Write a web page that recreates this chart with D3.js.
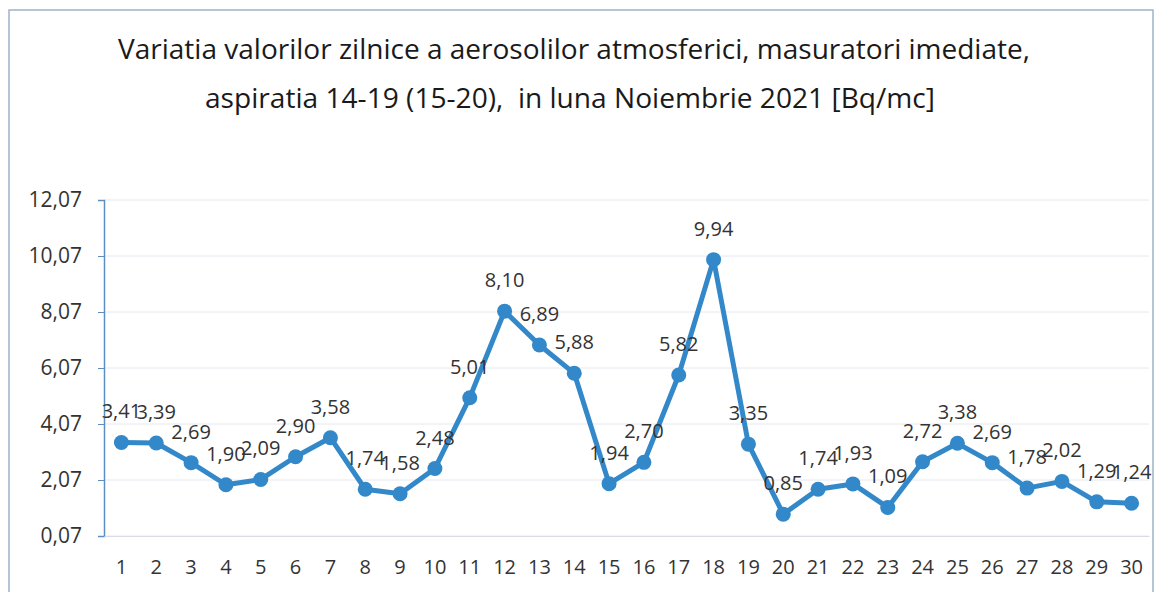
<!DOCTYPE html>
<meta charset="utf-8">
<script src="https://d3js.org/d3.v7.min.js"></script>
<style>
  body { margin: 0; background: #fff; }
  text { font-family: "Open Sans", sans-serif; }
</style>
<div id="my_dataviz"></div>
<script>

// data
const days = d3.range(1, 31).map(String);
const values = [3.41, 3.39, 2.69, 1.90, 2.09, 2.90, 3.58, 1.74, 1.58, 2.48,
                5.01, 8.10, 6.89, 5.88, 1.94, 2.70, 5.82, 9.94, 3.35, 0.85,
                1.74, 1.93, 1.09, 2.72, 3.38, 2.69, 1.78, 2.02, 1.29, 1.24];
const yTicks = [0.07, 2.07, 4.07, 6.07, 8.07, 10.07, 12.07];
const titleLines = ["Variatia valorilor zilnice a aerosolilor atmosferici, masuratori imediate,",
                    "aspiratia 14-19 (15-20),  in luna Noiembrie 2021 [Bq/mc]"];
const titleWidths = [912, 730];

const W = 1166, H = 592;
const margin = {top: 200, right: 17, bottom: 56, left: 104};
const width = W - margin.left - margin.right;
const height = H - margin.top - margin.bottom;

const svg0 = d3.select("#my_dataviz").append("svg")
    .attr("width", W).attr("height", H);

// chart frame
svg0.append("rect")
    .attr("x", 9).attr("y", 10).attr("width", 1144).attr("height", 600)
    .style("fill", "none").style("stroke", "#9db3c9").style("stroke-width", 1.5);

// title
svg0.selectAll("text.title")
  .data(titleLines)
  .enter().append("text")
    .attr("class", "title")
    .attr("x", (d, i) => i ? 570 : 574)
    .attr("y", (d, i) => 59 + i * 49)
    .attr("text-anchor", "middle")
    .attr("textLength", (d, i) => titleWidths[i])
    .attr("lengthAdjust", "spacingAndGlyphs")
    .style("white-space", "pre")
    .style("font-size", "27px")
    .style("fill", "#1a1a1a")
    .text(d => d);

const svg = svg0.append("g")
    .attr("transform", "translate(" + margin.left + "," + margin.top + ")");

const x = d3.scaleBand().domain(days).range([0, width]);
const y = d3.scaleLinear().domain([0.07, 12.07]).range([height, 0]);
const fmt = v => d3.format(".2f")(v).replace(".", ",");

// light gridlines
svg.selectAll("line.grid")
  .data(yTicks)
  .enter().append("line")
    .attr("x1", 0).attr("x2", width)
    .attr("y1", d => y(d)).attr("y2", d => y(d))
    .style("stroke", "#e4e8ee").style("stroke-width", 1);

// y axis
const yAxis = svg.append("g")
    .call(d3.axisLeft(y).tickValues(yTicks).tickFormat(fmt).tickSize(6).tickPadding(16));
yAxis.select(".domain").style("stroke", "#5b8fc4").style("stroke-width", 1.5);
yAxis.selectAll(".tick line").style("stroke", "#5b8fc4");
yAxis.selectAll("text").style("font-size", "21px").style("fill", "#333");

// x axis labels
const xAxis = svg.append("g")
    .attr("transform", "translate(0," + height + ")")
    .call(d3.axisBottom(x).tickSize(0).tickPadding(24));
xAxis.select(".domain").style("stroke", "#d9dde3");
xAxis.selectAll("text").style("font-size", "20px").style("fill", "#333");

const cx = (d, i) => x(days[i]) + x.bandwidth() / 2;

// line
svg.append("path")
    .datum(values)
    .attr("d", d3.line().x(cx).y(d => y(d)))
    .style("fill", "none")
    .style("stroke", "#3288c8")
    .style("stroke-width", 5)
    .style("stroke-linejoin", "round");

// markers
svg.selectAll("circle.pt")
  .data(values)
  .enter().append("circle")
    .attr("class", "pt")
    .attr("cx", cx)
    .attr("cy", d => y(d))
    .attr("r", 7.5)
    .style("fill", "#3288c8");

// data labels
svg.selectAll("text.lbl")
  .data(values)
  .enter().append("text")
    .attr("class", "lbl")
    .attr("x", cx)
    .attr("y", d => y(d) - 24)
    .attr("text-anchor", "middle")
    .style("font-size", "20px")
    .style("fill", "#333")
    .text(fmt);
</script>
